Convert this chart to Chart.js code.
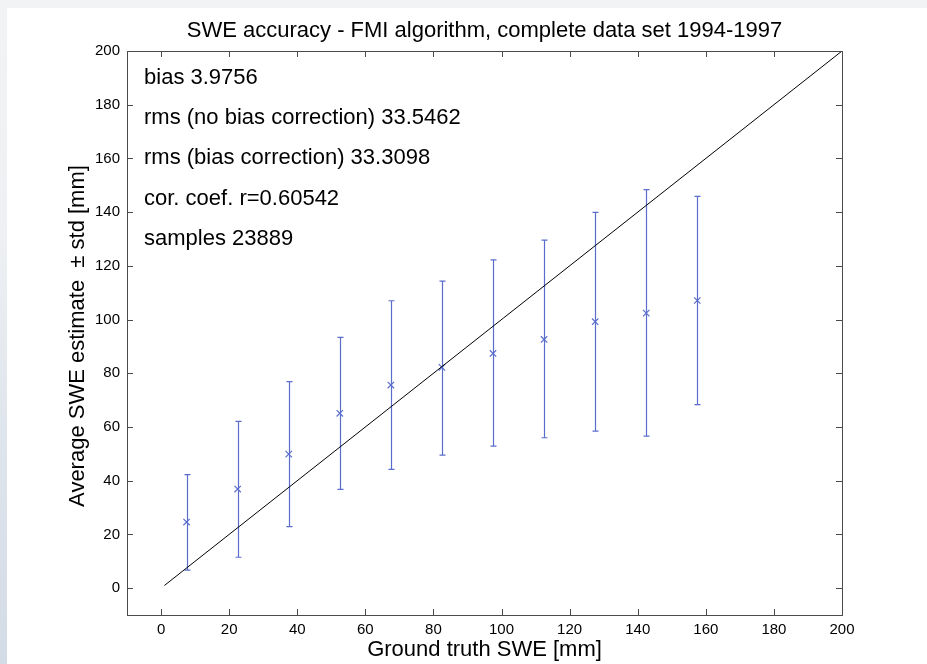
<!DOCTYPE html>
<html>
<head>
<meta charset="utf-8">
<script src="https://cdn.jsdelivr.net/npm/chart.js@4.4.0/dist/chart.umd.min.js"></script>
<style>
  html, body { margin: 0; padding: 0; background: #fff; }
  #wrap { position: relative; width: 927px; height: 664px; overflow: hidden; background: #fff; }
  #topband { position: absolute; left: 0; top: 0; width: 927px; height: 8px; background: #f2f3f4; }
  #leftband { position: absolute; left: 0; top: 0; width: 7px; height: 664px;
    background: linear-gradient(to bottom, #f2f3f4 0%, #eef0f3 35%, #dfe5ec 65%, #d3dbe6 100%); }
  canvas { position: absolute; left: 0; top: 0; }
</style>
</head>
<body>
<div id="wrap">
  <div id="topband"></div>
  <div id="leftband"></div>
  <canvas id="myChart" width="927" height="664"></canvas>
</div>
<script>
// tick values
const xTicks = [0, 20, 40, 60, 80, 100, 120, 140, 160, 180, 200];
const yTicks = [0, 20, 40, 60, 80, 100, 120, 140, 160, 180, 200];

// ground truth bin centres and estimate statistics
const truthBins = [7.5, 22.5, 37.5, 52.5, 67.5, 82.5, 97.5, 112.5, 127.5, 142.5, 157.5];
const meanEst   = [24.6, 36.9, 49.9, 65.1, 75.6, 82.2, 87.4, 92.6, 99.2, 102.4, 107.1];
const stdLow    = [6.7, 11.5, 22.9, 36.8, 44.2, 49.5, 52.9, 56.0, 58.5, 56.6, 68.3];
const stdHigh   = [42.3, 62.1, 76.9, 93.4, 107.0, 114.3, 122.2, 129.6, 139.9, 148.4, 145.9];

// 1:1 reference line
const refX = [1, 200];
const refY = [1, 200];

// statistics text
const statLabels = [
  'bias 3.9756',
  'rms (no bias correction) 33.5462',
  'rms (bias correction) 33.3098',
  'cor. coef. r=0.60542',
  'samples 23889'
];
const statY = [190, 175, 160, 145, 130];
const statX = -5;

const FONT = '"Liberation Sans", Arial, Helvetica, sans-serif';
const BLUE = '#5a6dcc';

const matlabFrame = {
  id: 'matlabFrame',
  beforeDatasetsDraw(chart) {
    const ctx = chart.ctx;
    const xs = chart.scales.x, ys = chart.scales.y;
    ctx.save();
    ctx.strokeStyle = BLUE;
    ctx.lineWidth = 1.2;
    truthBins.forEach((t, i) => {
      const px = Math.round(xs.getPixelForValue(t)) + 0.5;
      const lo = ys.getPixelForValue(stdLow[i]);
      const hi = ys.getPixelForValue(stdHigh[i]);
      ctx.beginPath();
      ctx.moveTo(px, lo); ctx.lineTo(px, hi);
      ctx.moveTo(px - 3, lo); ctx.lineTo(px + 3, lo);
      ctx.moveTo(px - 3, hi); ctx.lineTo(px + 3, hi);
      ctx.stroke();
    });
    ctx.restore();
  },
  afterDraw(chart) {
    const ctx = chart.ctx;
    const a = chart.chartArea;
    const xs = chart.scales.x, ys = chart.scales.y;
    ctx.save();
    // box
    ctx.strokeStyle = '#4a4a4a';
    ctx.lineWidth = 1;
    ctx.strokeRect(Math.round(a.left) + 0.5, Math.round(a.top) + 0.5,
      Math.round(a.right - a.left), Math.round(a.bottom - a.top));
    // inside ticks on all four sides
    const tl = 6;
    ctx.beginPath();
    xTicks.forEach(v => {
      const px = Math.round(xs.getPixelForValue(v)) + 0.5;
      ctx.moveTo(px, a.bottom); ctx.lineTo(px, a.bottom - tl);
      ctx.moveTo(px, a.top); ctx.lineTo(px, a.top + tl);
    });
    yTicks.forEach(v => {
      const py = Math.round(ys.getPixelForValue(v)) + 0.5;
      ctx.moveTo(a.left, py); ctx.lineTo(a.left + tl, py);
      ctx.moveTo(a.right, py); ctx.lineTo(a.right - tl, py);
    });
    ctx.stroke();

    ctx.fillStyle = '#000';
    // title
    ctx.font = '22px ' + FONT;
    ctx.textAlign = 'center';
    ctx.textBaseline = 'middle';
    ctx.fillText('SWE accuracy - FMI algorithm, complete data set 1994-1997', (a.left + a.right) / 2, 31);
    // x axis title
    ctx.fillText('Ground truth SWE [mm]', (a.left + a.right) / 2, 650);
    // y axis title
    ctx.save();
    ctx.translate(78, (a.top + a.bottom) / 2 + 3);
    ctx.rotate(-Math.PI / 2);
    ctx.fillText('Average SWE estimate  \u00b1 std [mm]', 0, 0);
    ctx.restore();

    // statistics text placed in data coordinates
    ctx.textAlign = 'left';
    statLabels.forEach((s, i) => {
      ctx.fillText(s, xs.getPixelForValue(statX), ys.getPixelForValue(statY[i]));
    });
    ctx.restore();
  }
};

const ctx = document.getElementById('myChart').getContext('2d');
const chart = new Chart(ctx, {
  type: 'scatter',
  data: {
    datasets: [
      {
        type: 'line',
        data: refX.map((x, i) => ({ x, y: refY[i] })),
        borderColor: '#000',
        borderWidth: 1,
        pointRadius: 0,
        fill: false
      },
      {
        data: truthBins.map((x, i) => ({ x, y: meanEst[i] })),
        pointStyle: 'crossRot',
        pointRadius: 4.5,
        borderColor: BLUE,
        backgroundColor: BLUE,
        borderWidth: 1.2
      }
    ]
  },
  options: {
    responsive: false,
    animation: false,
    events: [],
    layout: { padding: { top: 51, right: 85, left: 0, bottom: 0 } },
    plugins: {
      legend: { display: false },
      tooltip: { enabled: false },
      title: { display: false }
    },
    scales: {
      x: {
        type: 'linear',
        min: -10,
        max: 200,
        afterBuildTicks: s => { s.ticks = xTicks.map(v => ({ value: v })); },
        afterFit: s => { s.height = 49; },
        grid: { display: false, drawTicks: false },
        border: { display: false },
        ticks: { color: '#000', padding: 6, maxRotation: 0, font: { size: 15, family: FONT } }
      },
      y: {
        type: 'linear',
        min: -10,
        max: 200,
        afterBuildTicks: s => { s.ticks = yTicks.map(v => ({ value: v })); },
        afterFit: s => { s.width = 127; },
        grid: { display: false, drawTicks: false },
        border: { display: false },
        ticks: { color: '#000', padding: 7, font: { size: 15, family: FONT } }
      }
    }
  },
  plugins: [matlabFrame]
});
</script>
</body>
</html>
